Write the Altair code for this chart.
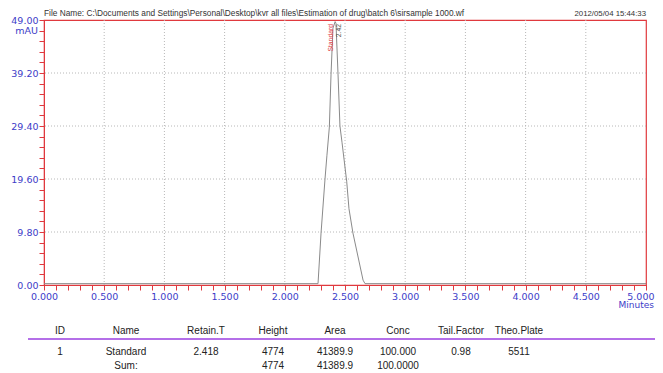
import altair as alt
import pandas as pd

# ---- chromatogram trace (minutes, mAU) ----
time_min = [0.0, 2.276, 2.301, 2.334, 2.350, 2.370, 2.384, 2.400, 2.418, 2.425,
            2.442, 2.458, 2.475, 2.514, 2.533, 2.566, 2.650, 2.666, 5.0]
signal_mau = [0.25, 0.25, 9.6, 19.6, 24.0, 29.2, 39.0, 47.5, 48.7, 48.4,
              39.0, 29.4, 26.4, 19.2, 14.1, 9.6, 0.9, 0.25, 0.25]

x_ticks = [round(i * 0.1, 1) for i in range(51)]
y_ticks = [round(i * 1.96, 2) for i in range(26)]
x_grid = [0.5, 1.0, 1.5, 2.0, 2.5, 3.0, 3.5, 4.0, 4.5]
y_grid = [9.8, 19.6, 29.4, 39.2]

peak_time = [2.418]
peak_name = ["Standard"]
peak_rt_label = ["2.42"]

file_name = r"File Name: C:\Documents and Settings\Personal\Desktop\kvr all files\Estimation of drug\batch 6\sirsample 1000.wf"
stamp = "2012/05/04 15:44:33"

columns = ["ID", "Name", "Retain.T", "Height", "Area", "Conc", "Tail.Factor", "Theo.Plate"]
row1 = ["1", "Standard", "2.418", "4774", "41389.9", "100.000", "0.98", "5511"]
sum_row = ["", "Sum:", "", "4774", "41389.9", "100.0000", "", ""]

RED = "#e0393e"
BLUE = "#3c3cc8"
W, H = 602, 265

trace = pd.DataFrame({"t": time_min, "v": signal_mau})


def xs():
    return alt.Scale(domain=[0, 5], nice=False, zero=False)


def ys():
    return alt.Scale(domain=[0, 49], nice=False, zero=False)


gx = alt.Chart(pd.DataFrame({"g": x_grid})).mark_rule(
    color="#b8b8b8", strokeDash=[1, 2], strokeWidth=1
).encode(x=alt.X("g:Q", scale=xs(), axis=None))
gy = alt.Chart(pd.DataFrame({"g": y_grid})).mark_rule(
    color="#b8b8b8", strokeDash=[1, 2], strokeWidth=1
).encode(y=alt.Y("g:Q", scale=ys(), axis=None))

line = alt.Chart(trace).mark_line(color="#8a8a8a", strokeWidth=1).encode(
    x=alt.X("t:Q", scale=xs(), title=None,
            axis=alt.Axis(values=x_ticks, grid=False, domainColor=RED, tickColor=RED,
                          tickSize=5, labelColor=BLUE, labelFont="DejaVu Sans",
                          labelFontSize=9.5, labelPadding=1,
                          labelAlign={"condition": {"test": "datum.value >= 4.99", "value": "right"}, "value": "center"},
                          labelOffset={"condition": {"test": "datum.value >= 4.99", "value": 8}, "value": 0},
                          labelExpr="abs(datum.value*2 - round(datum.value*2)) < 0.001 ? format(datum.value, '.3f') : ''",
                          labelOverlap=False, labelFlush=False)),
    y=alt.Y("v:Q", scale=ys(), title=None,
            axis=alt.Axis(values=y_ticks, grid=False, domainColor=RED, tickColor=RED,
                          tickSize=5, labelColor=BLUE, labelFont="DejaVu Sans",
                          labelFontSize=9.5, labelPadding=1,
                          labelExpr="abs(datum.value/9.8 - round(datum.value/9.8)) < 0.001 ? format(datum.value, '.2f') : ''",
                          labelOverlap=False, labelFlush=False)),
)

peaks = pd.DataFrame({"t": peak_time, "name": peak_name, "rt": peak_rt_label})
pk_name = alt.Chart(peaks).mark_text(
    angle=270, align="right", baseline="middle", color=RED, fontSize=6.8,
    font="Liberation Sans", dy=-4
).encode(x=alt.X("t:Q", scale=xs(), axis=None), y=alt.value(4), text="name:N")
pk_rt = alt.Chart(peaks).mark_text(
    angle=270, align="right", baseline="middle", color="#555555", fontSize=6.8,
    font="Liberation Sans", dy=4
).encode(x=alt.X("t:Q", scale=xs(), axis=None), y=alt.value(4), text="rt:N")

one = pd.DataFrame({"a": [0]})
fn = alt.Chart(one).mark_text(align="left", baseline="middle", fontSize=8.3,
                              font="Liberation Sans", color="#333333").encode(
    x=alt.value(0), y=alt.value(-6), text=alt.value(file_name))
dt = alt.Chart(one).mark_text(align="right", baseline="middle", fontSize=7.8,
                              font="Liberation Sans", color="#333333").encode(
    x=alt.value(W), y=alt.value(-6), text=alt.value(stamp))
mau = alt.Chart(one).mark_text(align="right", baseline="middle", fontSize=9.5,
                               font="DejaVu Sans", color=BLUE).encode(
    x=alt.value(-6), y=alt.value(10.5), text=alt.value("mAU"))
mins = alt.Chart(one).mark_text(align="right", baseline="middle", fontSize=9,
                                font="DejaVu Sans", color=BLUE).encode(
    x=alt.value(W + 8), y=alt.value(H + 20), text=alt.value("Minutes"))

# ---- result table ----
cells = []
for ri, row in enumerate([columns, row1, sum_row]):
    for ci, txt in enumerate(row):
        cells.append({"ci": ci, "ri": ri, "txt": txt})
cells = pd.DataFrame(cells)
col_px = [16, 82, 162, 229, 291, 354, 417, 475]
row_px = [H + 46, H + 67, H + 81]
table = alt.Chart(cells).mark_text(fontSize=10, font="Liberation Sans",
                                   color="#222222", baseline="middle").encode(
    x=alt.X("ci:Q", scale=alt.Scale(domain=list(range(8)), range=col_px, nice=False, zero=False), axis=None),
    y=alt.Y("ri:Q", scale=alt.Scale(domain=[0, 1, 2], range=row_px, nice=False, zero=False), axis=None),
    text="txt:N",
)
purple = alt.Chart(one).mark_rule(color="#9b3fe0", strokeWidth=1.5).encode(
    x=alt.value(-16), x2=alt.value(W + 9), y=alt.value(H + 54))

chart = alt.layer(gx, gy, line, pk_name, pk_rt, fn, dt, mau, mins, table, purple).resolve_scale(
    x="independent", y="independent"
).properties(
    width=W, height=H,
    autosize=alt.AutoSizeParams(type="none"),
    padding={"left": 36, "top": 12, "right": 9, "bottom": 88},
    background="white",
).configure_view(stroke=RED, strokeWidth=1.2)

chart.save("out.html", embed_options={"renderer": "svg", "actions": False})
